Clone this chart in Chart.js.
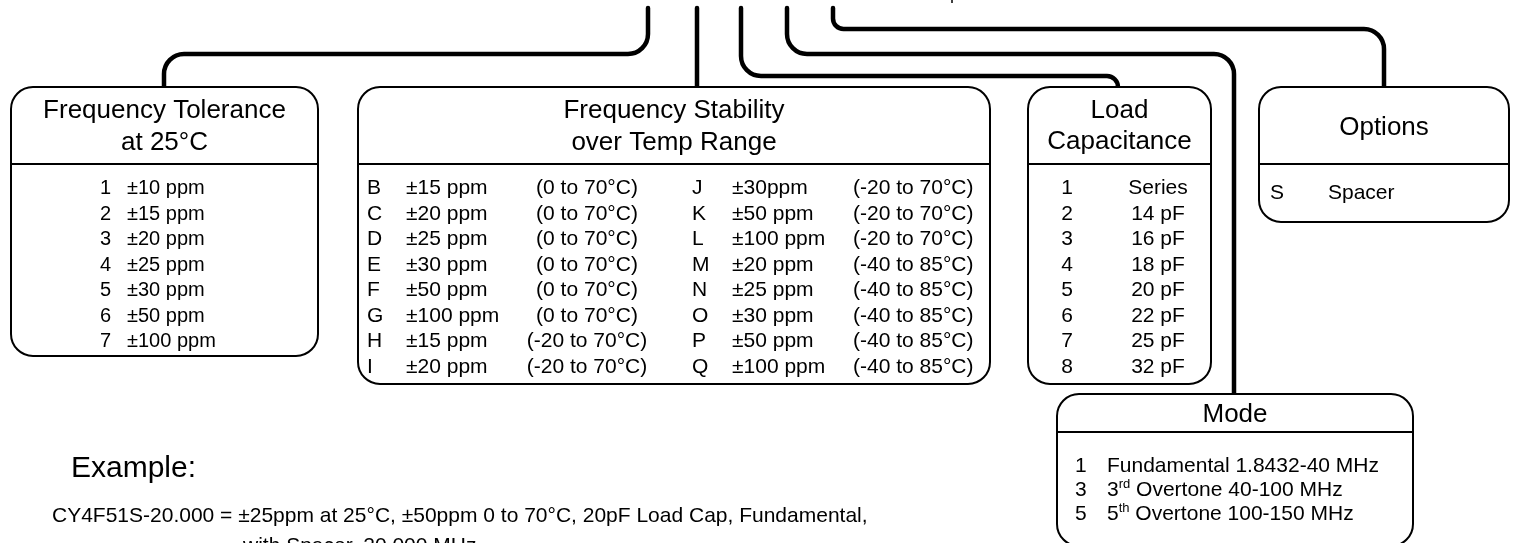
<!DOCTYPE html>
<html>
<head>
<meta charset="utf-8">
<script src="https://cdn.jsdelivr.net/npm/chart.js@4/dist/chart.umd.min.js"></script>
<style>
  html, body { margin: 0; padding: 0; background: #fff; }
  #wrap { width: 1515px; height: 543px; overflow: hidden; }
</style>
</head>
<body>
<div id="wrap"><canvas id="part-chart" width="1515" height="543"></canvas></div>
<script>
// --- content ---
var toleranceCodes = ['1', '2', '3', '4', '5', '6', '7'];
var toleranceValues = ['±10 ppm', '±15 ppm', '±20 ppm', '±25 ppm', '±30 ppm', '±50 ppm', '±100 ppm'];

var stabilityCodes = ['B', 'C', 'D', 'E', 'F', 'G', 'H', 'I', 'J', 'K', 'L', 'M', 'N', 'O', 'P', 'Q'];
var stabilityValues = ['±15 ppm', '±20 ppm', '±25 ppm', '±30 ppm', '±50 ppm', '±100 ppm', '±15 ppm', '±20 ppm',
                       '±30ppm', '±50 ppm', '±100 ppm', '±20 ppm', '±25 ppm', '±30 ppm', '±50 ppm', '±100 ppm'];
var stabilityRanges = ['(0 to 70°C)', '(0 to 70°C)', '(0 to 70°C)', '(0 to 70°C)', '(0 to 70°C)', '(0 to 70°C)',
                       '(-20 to 70°C)', '(-20 to 70°C)', '(-20 to 70°C)', '(-20 to 70°C)', '(-20 to 70°C)',
                       '(-40 to 85°C)', '(-40 to 85°C)', '(-40 to 85°C)', '(-40 to 85°C)', '(-40 to 85°C)'];

var loadCodes = ['1', '2', '3', '4', '5', '6', '7', '8'];
var loadValues = ['Series', '14 pF', '16 pF', '18 pF', '20 pF', '22 pF', '25 pF', '32 pF'];

var optionCodes = ['S'];
var optionValues = ['Spacer'];

var modeCodes = ['1', '3', '5'];
var modeOrdinals = ['', '3', '5'];
var modeSuffixes = ['', 'rd', 'th'];
var modeValues = ['Fundamental 1.8432-40 MHz', ' Overtone 40-100 MHz', ' Overtone 100-150 MHz'];

var boxTitles = [
    ['Frequency Tolerance', 'at 25°C'],
    ['Frequency Stability', 'over Temp Range'],
    ['Load', 'Capacitance'],
    ['Options'],
    ['Mode']
];

var exampleTitle = 'Example:';
var exampleLines = [
    'CY4F51S-20.000 = ±25ppm at 25°C, ±50ppm 0 to 70°C, 20pF Load Cap, Fundamental,',
    'with Spacer, 20.000 MHz'
];

// --- layout (in axis units, 1 unit = 1 px of the original) ---
var boxes = [
    { x0: 11,   x1: 318,  y0: 87,  yDiv: 164, y1: 356, titleY: [118, 150] },
    { x0: 358,  x1: 990,  y0: 87,  yDiv: 164, y1: 384, titleY: [118, 150] },
    { x0: 1028, x1: 1211, y0: 87,  yDiv: 164, y1: 384, titleY: [118, 149] },
    { x0: 1259, x1: 1509, y0: 87,  yDiv: 164, y1: 222, titleY: [135] },
    { x0: 1057, x1: 1413, y0: 394, yDiv: 432, y1: 546, titleY: [422] }
];

var connectors = [
    [[648, 8], [648, 54], [164, 54], [164, 87]],
    [[697, 8], [697, 87]],
    [[741, 8], [741, 76], [1118, 76], [1118, 87]],
    [[787, 8], [787, 54], [1234, 54], [1234, 394]],
    [[833, 8], [833, 29], [1384, 29], [1384, 87]]
];

var FONT = '"Liberation Sans", Arial, Helvetica, sans-serif';

function roundedPath(ctx, pts, r) {
    ctx.beginPath();
    ctx.moveTo(pts[0][0], pts[0][1]);
    for (var i = 1; i < pts.length - 1; i++) {
        var a = pts[i - 1], b = pts[i], c = pts[i + 1];
        var l1 = Math.hypot(b[0] - a[0], b[1] - a[1]);
        var l2 = Math.hypot(c[0] - b[0], c[1] - b[1]);
        var rr = Math.min(r, l1 / 2, l2);
        ctx.arcTo(b[0], b[1], c[0], c[1], rr);
    }
    ctx.lineTo(pts[pts.length - 1][0], pts[pts.length - 1][1]);
    ctx.stroke();
}

var diagramPlugin = {
    id: 'diagram',
    afterDraw: function(chart) {
        var ctx = chart.ctx;
        var sx = chart.scales.x, sy = chart.scales.y;
        function X(v) { return sx.getPixelForValue(v); }
        function Y(v) { return sy.getPixelForValue(v); }
        function text(str, x, y, size, align) {
            ctx.font = size + 'px ' + FONT;
            ctx.textAlign = align || 'left';
            ctx.fillText(str, X(x), Y(y));
        }

        ctx.save();
        ctx.fillStyle = '#000';
        ctx.strokeStyle = '#000';
        ctx.textBaseline = 'alphabetic';

        // connectors
        ctx.lineWidth = 4.5;
        ctx.lineCap = 'round';
        ctx.lineJoin = 'round';
        connectors.forEach(function(c) {
            roundedPath(ctx, c.map(function(p) { return [X(p[0]), Y(p[1])]; }), 20);
        });
        ctx.lineWidth = 1.5;
        ctx.lineCap = 'butt';
        ctx.beginPath();
        ctx.moveTo(X(952), Y(0));
        ctx.lineTo(X(952), Y(3));
        ctx.stroke();

        // boxes
        ctx.lineWidth = 2;
        boxes.forEach(function(b, i) {
            ctx.fillStyle = '#fff';
            ctx.beginPath();
            ctx.roundRect(X(b.x0), Y(b.y0), X(b.x1) - X(b.x0), Y(b.y1) - Y(b.y0), 22);
            ctx.fill();
            ctx.stroke();
            ctx.beginPath();
            ctx.moveTo(X(b.x0), Y(b.yDiv));
            ctx.lineTo(X(b.x1), Y(b.yDiv));
            ctx.stroke();
            ctx.fillStyle = '#000';
            var cx = (b.x0 + b.x1) / 2;
            boxTitles[i].forEach(function(t, k) {
                text(t, cx, b.titleY[k], 26, 'center');
            });
        });

        var rowH = 25.5, base = 194;

        toleranceCodes.forEach(function(c, i) {
            text(c, 100, base + i * rowH, 20);
            text(toleranceValues[i], 127, base + i * rowH, 20);
        });

        stabilityCodes.forEach(function(c, i) {
            var col = i < 8 ? 0 : 1, row = i % 8;
            var y = base + row * rowH;
            if (col === 0) {
                text(c, 367, y, 21);
                text(stabilityValues[i], 406, y, 21);
                text(stabilityRanges[i], 587, y, 21, 'center');
            } else {
                text(c, 692, y, 21);
                text(stabilityValues[i], 732, y, 21);
                text(stabilityRanges[i], 853, y, 21);
            }
        });

        loadCodes.forEach(function(c, i) {
            text(c, 1067, base + i * rowH, 21, 'center');
            text(loadValues[i], 1158, base + i * rowH, 21, 'center');
        });

        optionCodes.forEach(function(c, i) {
            text(c, 1270, 199 + i * rowH, 21);
            text(optionValues[i], 1328, 199 + i * rowH, 21);
        });

        modeCodes.forEach(function(c, i) {
            var y = 472 + i * 24;
            text(c, 1075, y, 21);
            var x = 1107;
            if (modeOrdinals[i]) {
                text(modeOrdinals[i], x, y, 21);
                ctx.font = '21px ' + FONT;
                x += ctx.measureText(modeOrdinals[i]).width;
                text(modeSuffixes[i], x, y - 8, 13);
                ctx.font = '13px ' + FONT;
                x += ctx.measureText(modeSuffixes[i]).width;
            }
            text(modeValues[i], x, y, 21);
        });

        text(exampleTitle, 71, 477, 30);
        text(exampleLines[0], 52, 522, 21);
        text(exampleLines[1], 243, 552, 21);

        ctx.restore();
    }
};

new Chart(document.getElementById('part-chart'), {
    type: 'scatter',
    data: { datasets: [{ data: [], pointRadius: 0 }] },
    options: {
        responsive: false,
        animation: false,
        layout: { padding: 0 },
        plugins: { legend: { display: false }, tooltip: { enabled: false } },
        scales: {
            x: { type: 'linear', min: 0, max: 1515, display: false },
            y: { type: 'linear', min: 0, max: 543, reverse: true, display: false }
        }
    },
    plugins: [diagramPlugin]
});
</script>
</body>
</html>
